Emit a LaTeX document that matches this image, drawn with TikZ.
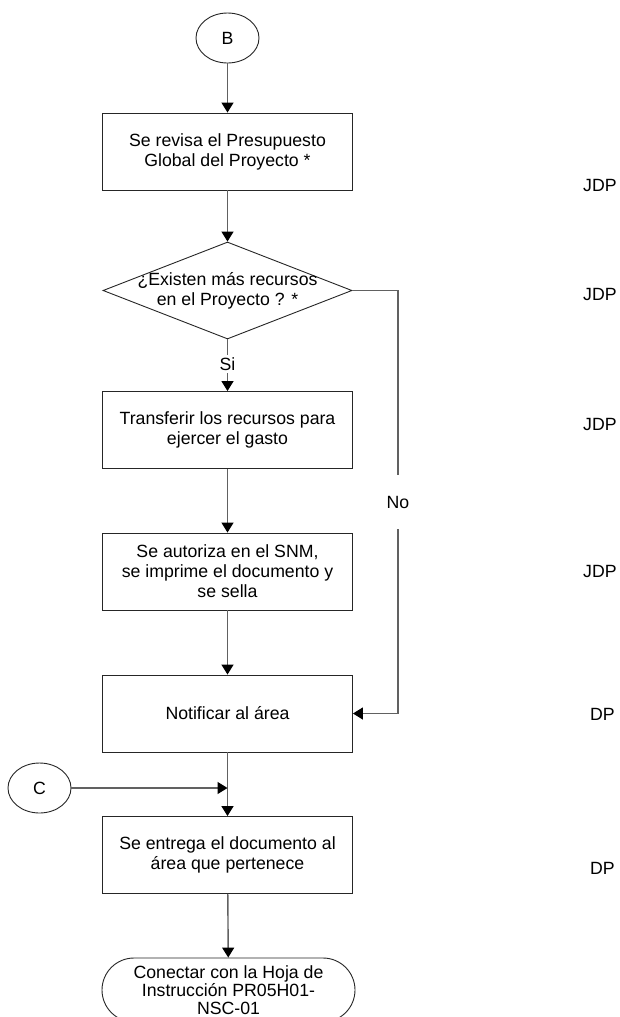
\documentclass[tikz,border=0pt]{standalone}
\usepackage{fontspec}
\setmainfont{Liberation Sans}
\usetikzlibrary{shapes.geometric,shapes.misc,arrows.meta}
\begin{document}
\begin{tikzpicture}[x=1pt,y=-1pt,
  every node/.style={font=\fontsize{17.7}{20}\selectfont},
  procbox/.style={draw=black!85, line width=0.9pt, minimum width=250pt, minimum height=77pt, align=center, inner sep=0pt},
  conn/.style={draw=black!62, line width=1.4pt},
  arr/.style={conn, -{Triangle[width=12pt,length=10pt,fill=black,color=black]}},
  connector/.style={ellipse, draw=black!85, line width=0.9pt, minimum width=63pt, minimum height=50pt, inner sep=0pt},
  role/.style={anchor=west, inner sep=0pt},
  lbl/.style={inner sep=0pt, minimum width=26pt}]
\useasboundingbox (0,0) rectangle (619,1017);
\clip (0,0) rectangle (619,1017);
\fill[white] (0,0) rectangle (619,1017);

\node[connector] (b) at (227.5,38) {B};
\node[procbox] (n1) at (227.5,151.5) {Se revisa el Presupuesto\\Global del Proyecto *};
\node[diamond, draw=black!85, line width=0.9pt, minimum width=249pt, minimum height=97pt, inner sep=0pt] (d) at (227.5,290.5) {};
\node[align=center, inner sep=0pt] (dt) at (227.5,290.5) {¿Existen más recursos\\en el Proyecto ? *};
\node[lbl, minimum height=18pt] (si) at (227.5,364) {Si};
\node[procbox] (n3) at (227.5,430) {Transferir los recursos para\\ejercer el gasto};
\node[procbox] (n4) at (227.5,571.5) {Se autoriza en el SNM,\\se imprime el documento y\\se sella};
\node[procbox] (n5) at (227.5,713.5) {Notificar al área};
\node[connector] (c) at (39.5,788) {C};
\node[procbox] (n6) at (227.5,855) {Se entrega el documento al\\área que pertenece};
\node[rounded rectangle, draw=black!85, line width=0.9pt, minimum width=253pt, minimum height=64pt, align=center, inner sep=0pt, font=\fontsize{17.7}{18}\selectfont] (t) at (228.5,990) {Conectar con la Hoja de\\Instrucción PR05H01-\\NSC-01};
\node[lbl, minimum height=54pt] (no) at (398,502) {No};

\draw[arr] (b) -- (n1);
\draw[arr] (n1) -- (d);
\draw[conn] (d.south) -- (si.north);
\draw[arr] (si.south) -- (n3.north);
\draw[arr] (n3) -- (n4);
\draw[arr] (n4) -- (n5);
\draw[conn] (d.east) -| (no.north);
\draw[arr] (no.south) |- (n5.east);
\draw[arr] (n5) -- (n6);
\coordinate (j) at (n5.south |- c.east);
\draw[arr] (c.east) -- (j);
\draw[arr] (n6) -- (t);

\node[role] (r1) at (583,185) {JDP};
\node[role] (r2) at (583,294) {JDP};
\node[role] (r3) at (583,424) {JDP};
\node[role] (r4) at (583,571) {JDP};
\node[role] (r5) at (590,714) {DP};
\node[role] (r6) at (590,868) {DP};
\end{tikzpicture}
\end{document}
